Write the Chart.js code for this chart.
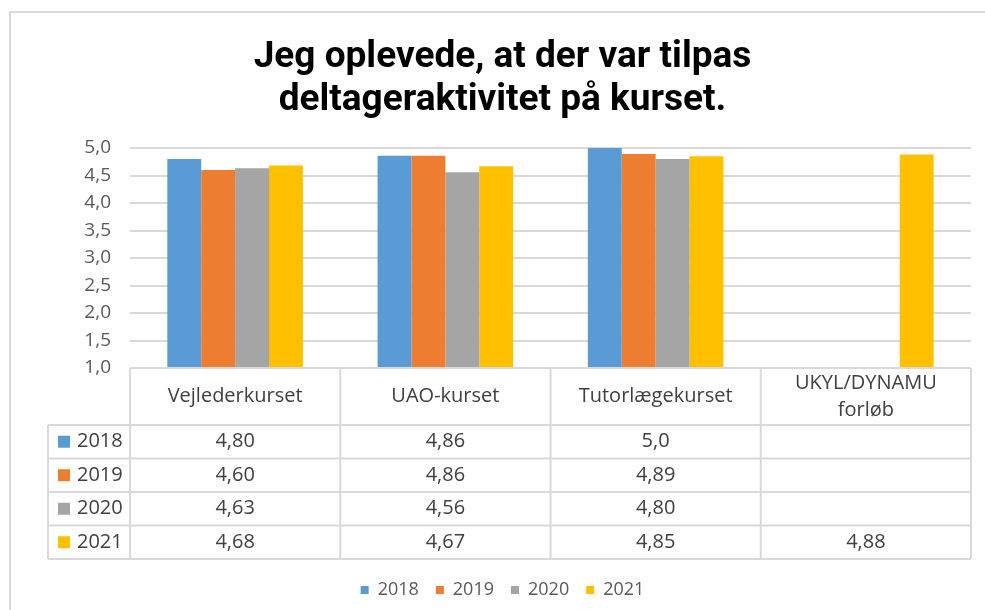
<!DOCTYPE html>
<html>
<head>
<meta charset="utf-8">
<script src="https://cdn.jsdelivr.net/npm/chart.js@4.4.1/dist/chart.umd.min.js"></script>
<style>
  body { margin: 0; background: #fff; }
  #ramme { position: absolute; left: 9px; top: 11px; width: 990px; height: 620px;
    border-left: 2px solid #d9d9d9; border-top: 2px solid #d9d9d9; }
  #wrap { position: absolute; left: 0; top: 0; width: 985px; height: 610px; }
</style>
</head>
<body>
<div id="ramme"></div>
<div id="wrap"><canvas id="graf"></canvas></div>
<script>
const kurser = ['Vejlederkurset', 'UAO-kurset', 'Tutorlægekurset', ['UKYL/DYNAMU', 'forløb']]
const aar = ['2018', '2019', '2020', '2021']
const v2018 = [4.80, 4.86, 5.0, null]
const v2019 = [4.60, 4.86, 4.89, null]
const v2020 = [4.63, 4.56, 4.80, null]
const v2021 = [4.68, 4.67, 4.85, 4.88]
const yTicks = [1.0, 1.5, 2.0, 2.5, 3.0, 3.5, 4.0, 4.5, 5.0]

const farver = ['#5b9bd5', '#ed7d31', '#a5a5a5', '#ffc000']
const serier = [v2018, v2019, v2020, v2021]

function fmt(v) {
  if (v === null || v === undefined) return ''
  return (Number.isInteger(v) ? v.toFixed(1) : v.toFixed(2)).replace('.', ',')
}

// tegner datatabellen under søjlerne, kolonnerne følger x-aksen
const tabelH = 191
const tabelPlugin = {
  id: 'datatabel',
  afterDraw(chart) {
    const ctx = chart.ctx
    const x = chart.scales.x
    const n = kurser.length
    const w = x.width / n
    const top = chart.chartArea.bottom
    const bund = top + tabelH
    const headH = 57
    const rowH = (bund - top - headH) / aar.length
    const venstre = x.left - 82
    ctx.save()
    ctx.strokeStyle = '#d9d9d9'
    ctx.lineWidth = 2
    ctx.beginPath()
    ctx.moveTo(x.left, top); ctx.lineTo(x.right, top)
    for (let r = 0; r <= aar.length; r++) {
      const y = top + headH + r * rowH
      ctx.moveTo(venstre, y); ctx.lineTo(x.right, y)
    }
    for (let i = 0; i <= n; i++) {
      const xx = x.left + i * w
      ctx.moveTo(xx, top); ctx.lineTo(xx, bund)
    }
    ctx.moveTo(venstre, top + headH); ctx.lineTo(venstre, bund)
    ctx.stroke()

    ctx.fillStyle = '#404040'
    ctx.font = '20px "Open Sans"'
    ctx.textBaseline = 'middle'
    ctx.textAlign = 'center'
    kurser.forEach((k, i) => {
      const cx = x.getPixelForValue(i)
      const linjer = Array.isArray(k) ? k : [k]
      linjer.forEach((l, j) => {
        ctx.fillText(l, cx, top + headH / 2 + (j - (linjer.length - 1) / 2) * 27)
      })
    })
    aar.forEach((a, r) => {
      const cy = top + headH + r * rowH + rowH / 2
      ctx.fillStyle = farver[r]
      ctx.fillRect(venstre + 10, cy - 6, 12, 12)
      ctx.fillStyle = '#404040'
      ctx.textAlign = 'left'
      ctx.fillText(a, venstre + 29, cy)
      ctx.textAlign = 'center'
      serier[r].forEach((v, i) => {
        ctx.fillText(fmt(v), x.getPixelForValue(i), cy)
      })
    })
    ctx.restore()
  }
}

const ctx = document.getElementById('graf').getContext('2d')
new Chart(ctx, {
  type: 'bar',
  data: {
    labels: kurser,
    datasets: aar.map((a, i) => ({
      label: a,
      data: serier[i],
      backgroundColor: farver[i],
      borderWidth: 0,
      barPercentage: 1,
      categoryPercentage: 0.645
    }))
  },
  options: {
    responsive: true,
    maintainAspectRatio: false,
    animation: false,
    layout: { padding: { left: 34, right: 14, top: 12, bottom: 1 } },
    plugins: {
      title: {
        display: true,
        text: ['Jeg oplevede, at der var tilpas', 'deltageraktivitet på kurset.'],
        color: '#000',
        font: { family: 'Roboto', size: 37, weight: 'bold', lineHeight: '43px' },
        padding: { top: 24, bottom: 26 }
      },
      legend: {
        position: 'bottom',
        labels: {
          boxWidth: 8,
          boxHeight: 8,
          padding: 17,
          color: '#595959',
          font: { family: '"Open Sans"', size: 18 }
        }
      },
      tooltip: { enabled: false }
    },
    scales: {
      x: {
        grid: { display: false },
        border: { display: false },
        ticks: { display: false },
        afterFit(s) { s.height = tabelH + 5 }
      },
      y: {
        min: yTicks[0],
        max: yTicks[yTicks.length - 1],
        afterBuildTicks(s) { s.ticks = yTicks.map(v => ({ value: v })) },
        grid: { color: '#d9d9d9', lineWidth: 2, drawTicks: false },
        border: { display: false },
        ticks: {
          padding: 19,
          color: '#595959',
          font: { family: '"Open Sans"', size: 19 },
          callback: v => v.toFixed(1).replace('.', ',')
        },
        afterFit(s) { s.width = 96 }
      }
    }
  },
  plugins: [tabelPlugin]
})
</script>
</body>
</html>
